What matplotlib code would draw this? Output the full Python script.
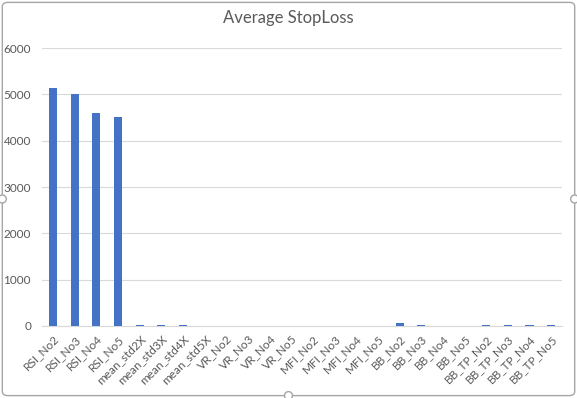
import matplotlib
matplotlib.use("Agg")
import matplotlib.pyplot as plt
import numpy as np
from matplotlib.patches import FancyBboxPatch, Circle

labels = ["RSI_No2", "RSI_No3", "RSI_No4", "RSI_No5",
          "mean_std2X", "mean_std3X", "mean_std4X", "mean_std5X",
          "VR_No2", "VR_No3", "VR_No4", "VR_No5",
          "MFI_No2", "MFI_No3", "MFI_No4", "MFI_No5",
          "BB_No2", "BB_No3", "BB_No4", "BB_No5",
          "BB_TP_No2", "BB_TP_No3", "BB_TP_No4", "BB_TP_No5"]
avg_stoploss = [5150, 5005, 4595, 4505,
                15, 15, 15, 0,
                0, 0, 0, 0,
                0, 0, 0, 0,
                60, 15, 0, 0,
                15, 15, 15, 15]

plt.rcParams["font.family"] = ["Lato", "DejaVu Sans"]
text_color = "#595959"

fig = plt.figure(figsize=(5.77, 3.98), dpi=100)
ax = fig.add_axes([0.073, 0.181, 0.901, 0.698])

x = np.arange(len(labels))
ax.bar(x, avg_stoploss, width=0.37, color="#4472c4", zorder=3)

ax.set_ylim(0, 6000)
ax.set_yticks(range(0, 6001, 1000))
ax.set_xlim(-0.5, len(labels) - 0.5)
ax.set_xticks(x)
ax.set_xticklabels(labels, rotation=45, ha="right", rotation_mode="anchor",
                   fontsize=8.5, color=text_color)
ax.tick_params(axis="y", labelsize=8.5, labelcolor=text_color, length=0, pad=8)
ax.tick_params(axis="x", length=0, pad=5)
ax.grid(axis="y", color="#d9d9d9", linewidth=0.8, zorder=0)
for side in ["top", "right", "left"]:
    ax.spines[side].set_visible(False)
ax.spines["bottom"].set_color("#d9d9d9")

fig.text(0.5, 0.955, "Average StopLoss", ha="center", va="center",
         fontsize=12, color=text_color)

# chart border with selection handles
fig.patches.append(FancyBboxPatch((0.004, 0.006), 0.992, 0.988,
                                  boxstyle="round,pad=0,rounding_size=0.01",
                                  transform=fig.transFigure, fill=False,
                                  edgecolor="#a6a6a6", linewidth=1.0))
for hx, hy in [(0.004, 0.5), (0.996, 0.5), (0.5, 0.006)]:
    fig.patches.append(Circle((hx * 577, hy * 398), 4, transform=None,
                              facecolor="white", edgecolor="#a6a6a6",
                              linewidth=1.0))

fig.savefig("out.png", dpi=100)
